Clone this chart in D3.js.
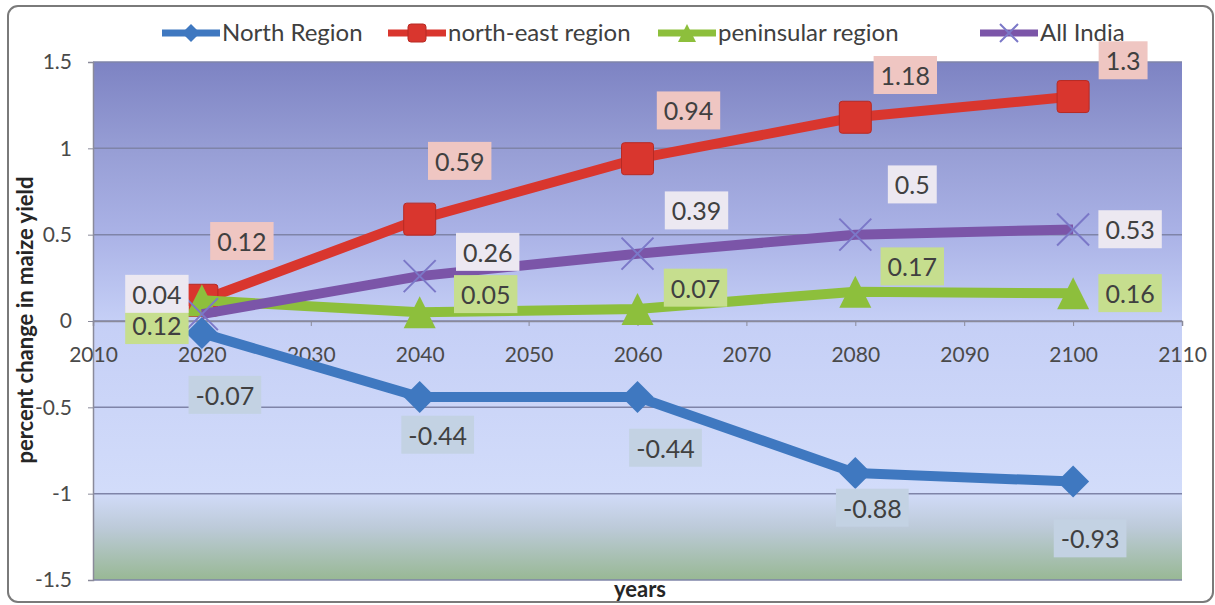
<!DOCTYPE html>
<html>
<head>
<meta charset="utf-8">
<script src="https://cdn.jsdelivr.net/npm/d3@7"></script>
<style>
  body { margin: 0; background: #fff; }
  svg { display: block; font-family: Lato, "Open Sans", sans-serif; }
</style>
</head>
<body>
<svg id="chart" width="1215" height="605"></svg>
<script>
// data
const years = [2020, 2040, 2060, 2080, 2100];
const northRegion = [-0.07, -0.44, -0.44, -0.88, -0.93];
const northEast = [0.12, 0.59, 0.94, 1.18, 1.3];
const peninsular = [0.12, 0.05, 0.07, 0.17, 0.16];
const allIndia = [0.04, 0.26, 0.39, 0.5, 0.53];
const seriesNames = ["North Region", "north-east region", "peninsular region", "All India"];
const xTicks = [2010, 2020, 2030, 2040, 2050, 2060, 2070, 2080, 2090, 2100, 2110];
const yTicks = [-1.5, -1, -0.5, 0, 0.5, 1, 1.5];

// label nudges in pixels (layout only)
const labelOffsets = {
  "North Region": [[23, 63], [18, 39], [28, 52], [17, 36], [17, 58]],
  "north-east region": [[40, -58], [40, -57], [51, -47], [50, -41], [50, -35]],
  "peninsular region": [[-45, 26], [66, -17], [58, -20], [57, -24], [57, 1]],
  "All India": [[-45, -19], [68, -23], [59, -42], [57, -49], [57, 1]]
};

const series = [
  { name: seriesNames[0], values: northRegion, color: "#3f78c0", marker: "diamond", labelBg: "#c3d2e3" },
  { name: seriesNames[1], values: northEast, color: "#d9362e", marker: "square", labelBg: "#efc6c2" },
  { name: seriesNames[2], values: peninsular, color: "#8dbf3c", marker: "triangle", labelBg: "#c6de8e" },
  { name: seriesNames[3], values: allIndia, color: "#7b55a8", marker: "x", labelBg: "#ece8f1" }
];

const svg = d3.select("#chart");
const margin = { top: 62, right: 33, bottom: 25, left: 93 };
const width = 1215 - margin.left - margin.right;
const height = 605 - margin.top - margin.bottom;

// outer frame
svg.append("rect")
  .attr("x", 8).attr("y", 6)
  .attr("width", 1205).attr("height", 596)
  .attr("rx", 10)
  .attr("fill", "#fff")
  .attr("stroke", "#7a7a7a")
  .attr("stroke-width", 2);

const defs = svg.append("defs");
const grad = defs.append("linearGradient")
  .attr("id", "plotBg")
  .attr("x1", 0).attr("y1", 0).attr("x2", 0).attr("y2", 1);
[[0, "#7d83c3"], [0.17, "#979ed5"], [0.33, "#aab2e6"], [0.5, "#c5cff6"], [0.83, "#d2dcfa"], [0.9, "#bccad8"], [1, "#98b894"]]
  .forEach(s => grad.append("stop").attr("offset", s[0]).attr("stop-color", s[1]));

const g = svg.append("g").attr("transform", "translate(" + margin.left + "," + margin.top + ")");

const x = d3.scaleLinear().domain([2010, 2110]).range([0, width]);
const y = d3.scaleLinear().domain([-1.5, 1.5]).range([height, 0]);

g.append("rect")
  .attr("width", width).attr("height", height)
  .attr("fill", "url(#plotBg)");

// gridlines
g.append("g")
  .selectAll("line")
  .data(yTicks)
  .enter().append("line")
  .attr("x1", 0).attr("x2", width)
  .attr("y1", d => y(d)).attr("y2", d => y(d))
  .attr("stroke", "#7f84a8")
  .attr("stroke-width", 1.5);

// y axis
const yAxis = g.append("g")
  .call(d3.axisLeft(y).tickValues(yTicks).tickSize(5).tickPadding(16).tickFormat(d => String(d)));
yAxis.select(".domain").attr("stroke", "#8a8a9a").attr("stroke-width", 1.5);
yAxis.selectAll(".tick line").attr("stroke", "#8a8a9a");
yAxis.selectAll("text").attr("fill", "#4a4a4a").style("font-size", "21px").style("font-family", "Lato, sans-serif");

// x axis at zero, labels sit a bit below the line
const xAxis = g.append("g")
  .attr("transform", "translate(0," + y(0) + ")")
  .call(d3.axisBottom(x).tickValues(xTicks).tickSize(5).tickPadding(21).tickFormat(d3.format("d")));
xAxis.select(".domain").attr("stroke", "#8a8a9a").attr("stroke-width", 1.5);
xAxis.selectAll(".tick line").attr("stroke", "#8a8a9a");
xAxis.selectAll("text").attr("fill", "#4a4a4a").style("font-size", "21px").style("font-family", "Lato, sans-serif");

// axis titles
svg.append("text")
  .attr("transform", "translate(33," + 320 + ") rotate(-90)")
  .attr("text-anchor", "middle")
  .attr("fill", "#262626")
  .style("font-size", "22px")
  .style("font-weight", "bold")
  .text("percent change in maize yield");

svg.append("text")
  .attr("x", 640).attr("y", 597)
  .attr("text-anchor", "middle")
  .attr("fill", "#262626")
  .style("font-size", "22px")
  .style("font-weight", "bold")
  .text("years");

// marker drawing
function drawMarker(sel, type, color, size) {
  if (type === "diamond") {
    const h = size / 2;
    sel.append("path")
      .attr("d", "M0," + (-h) + "L" + h + ",0L0," + h + "L" + (-h) + ",0Z")
      .attr("fill", color);
  } else if (type === "square") {
    sel.append("rect")
      .attr("x", -size / 2).attr("y", -size / 2)
      .attr("width", size).attr("height", size)
      .attr("rx", 3)
      .attr("fill", color)
      .attr("stroke", "#b72a24").attr("stroke-width", 1);
  } else if (type === "triangle") {
    sel.append("path")
      .attr("d", "M0," + (-size / 2) + "L" + (size / 2) + "," + (size / 2) + "L" + (-size / 2) + "," + (size / 2) + "Z")
      .attr("fill", color);
  } else {
    const h = size / 2;
    sel.append("path")
      .attr("d", "M" + (-h) + "," + (-h) + "L" + h + "," + h + "M" + h + "," + (-h) + "L" + (-h) + "," + h)
      .attr("stroke", "#7b78c8").attr("stroke-width", 2).attr("fill", "none");
  }
}

const line = d3.line()
  .x((d, i) => x(years[i]))
  .y(d => y(d));

series.forEach(s => {
  g.append("path")
    .datum(s.values)
    .attr("d", line)
    .attr("fill", "none")
    .attr("stroke", s.color)
    .attr("stroke-width", 10)
    .attr("stroke-linejoin", "round");
  s.values.forEach((v, i) => {
    const m = g.append("g").attr("transform", "translate(" + x(years[i]) + "," + y(v) + ")");
    drawMarker(m, s.marker, s.color, 32);
  });
});

// data labels
series.forEach(s => {
  s.values.forEach((v, i) => {
    const off = labelOffsets[s.name][i];
    const lg = g.append("g").attr("transform", "translate(" + (x(years[i]) + off[0]) + "," + (y(v) + off[1]) + ")");
    const t = lg.append("text")
      .attr("text-anchor", "middle")
      .attr("dy", "0.35em")
      .attr("fill", "#404040")
      .style("font-size", "25px")
      .text(String(v));
    const bb = t.node().getBBox();
    lg.insert("rect", "text")
      .attr("x", bb.x - 7).attr("y", bb.y - 4)
      .attr("width", bb.width + 14).attr("height", bb.height + 8)
      .attr("fill", s.labelBg);
  });
});

// legend
const legendX = [162, 388, 658, 980];
const legend = svg.append("g");
series.forEach((s, i) => {
  const lg = legend.append("g").attr("transform", "translate(" + legendX[i] + ",33)");
  lg.append("line")
    .attr("x1", 0).attr("x2", 58)
    .attr("stroke", s.color).attr("stroke-width", 7);
  const m = lg.append("g").attr("transform", "translate(29,0)");
  drawMarker(m, s.marker, s.color, 18);
  lg.append("text")
    .attr("x", 60).attr("dy", "0.35em")
    .attr("fill", "#404040")
    .style("font-size", "24px")
    .text(s.name);
});
</script>
</body>
</html>
